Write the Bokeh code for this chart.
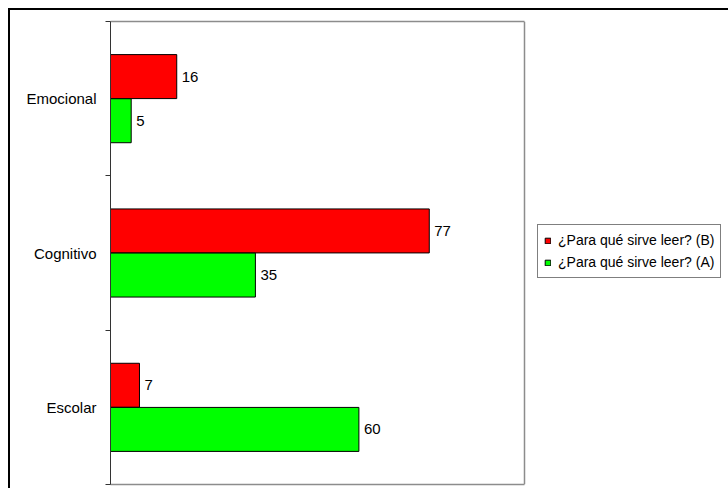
from bokeh.plotting import figure
from bokeh.layouts import column
from bokeh.models import (ColumnDataSource, FactorRange, Range1d, LinearAxis, CategoricalAxis,
                          FixedTicker, Legend, LegendItem, LabelSet, Span)
from bokeh.core.properties import value
from bokeh.transform import dodge
from bokeh.embed import file_html
from bokeh.resources import INLINE

categories = ["Emocional", "Cognitivo", "Escolar"]
serie_b = [16, 77, 7]
serie_a = [5, 35, 60]
name_b = "¿Para qué sirve leer? (B)"
name_a = "¿Para qué sirve leer? (A)"

FONT = "Liberation Sans"
X_MAX = 100          # value axis maximum (right edge of plot area)
FRAME_W = 414        # plot-area width in px
TOTAL_W = 618        # frame incl. legend area

src = ColumnDataSource(dict(cat=categories, b=serie_b, a=serie_a,
                            bl=[str(v) for v in serie_b], al=[str(v) for v in serie_a]))

p = figure(width=718, height=478, y_range=FactorRange(*categories[::-1]),
           x_range=Range1d(0, X_MAX * TOTAL_W / FRAME_W),
           x_axis_location=None, y_axis_location=None, output_backend="svg", toolbar_location=None,
           min_border_left=100, min_border_right=0, min_border_top=11, min_border_bottom=4)
p.xgrid.visible = False
p.ygrid.visible = False
p.outline_line_color = None
p.background_fill_color = "white"
p.border_fill_color = "white"

GRAY = "#8c8c8c"
# plot-area border (top / bottom / right)
for loc in ("above", "below"):
    p.add_layout(LinearAxis(ticker=FixedTicker(ticks=[]), bounds=(0, X_MAX), axis_line_color=GRAY,
                            axis_line_width=1.5, major_tick_line_color=None, minor_tick_line_color=None,
                            major_label_standoff=0), loc)
p.add_layout(Span(location=X_MAX, dimension="height", line_color=GRAY, line_width=1.5))

off = 0.143
hb = p.hbar(y=dodge("cat", off, range=p.y_range), right="b", left=0, height=0.285, source=src,
            fill_color="#FF0000", line_color="black", line_width=1)
ha = p.hbar(y=dodge("cat", -off, range=p.y_range), right="a", left=0, height=0.285, source=src,
            fill_color="#00FF00", line_color="black", line_width=1)

for col, lab, o in (("b", "bl", off), ("a", "al", -off)):
    p.add_layout(LabelSet(x=col, y=dodge("cat", o, range=p.y_range), text=lab, source=src,
                          x_offset=5, text_baseline="middle", text_font=value(FONT),
                          text_font_size="15px", text_color="black"))

sep_axis = LinearAxis(ticker=FixedTicker(ticks=[0, 1, 2, 3]),
                      major_tick_in=0, major_tick_out=5, minor_tick_line_color=None,
                      major_label_overrides={0: "", 1: "", 2: "", 3: ""}, major_label_standoff=0,
                      axis_line_color="#333333", major_tick_line_color="#333333")
p.add_layout(sep_axis, "left")
cat_axis = CategoricalAxis(axis_line_color=None, major_tick_line_color=None, minor_tick_line_color=None,
                           major_label_text_font=FONT, major_label_text_font_size="15px",
                           major_label_text_color="black", major_label_standoff=3)
p.add_layout(cat_axis, "left")

legend = Legend(items=[LegendItem(label=name_b, renderers=[hb]), LegendItem(label=name_a, renderers=[ha])],
                location=(427, 206), orientation="vertical", border_line_color="black",
                border_line_width=1, background_fill_color="white", padding=6, spacing=4,
                glyph_width=7, glyph_height=7, label_height=18, label_standoff=7, margin=0,
                label_text_font=FONT, label_text_font_size="14px", label_text_color="black")
p.add_layout(legend, "center")

page = column(p, styles={"border-left": "2px solid black", "border-top": "2px solid black",
                         "margin-left": "8px", "margin-top": "8px"})

open("out.html", "w").write(file_html(page, INLINE))
